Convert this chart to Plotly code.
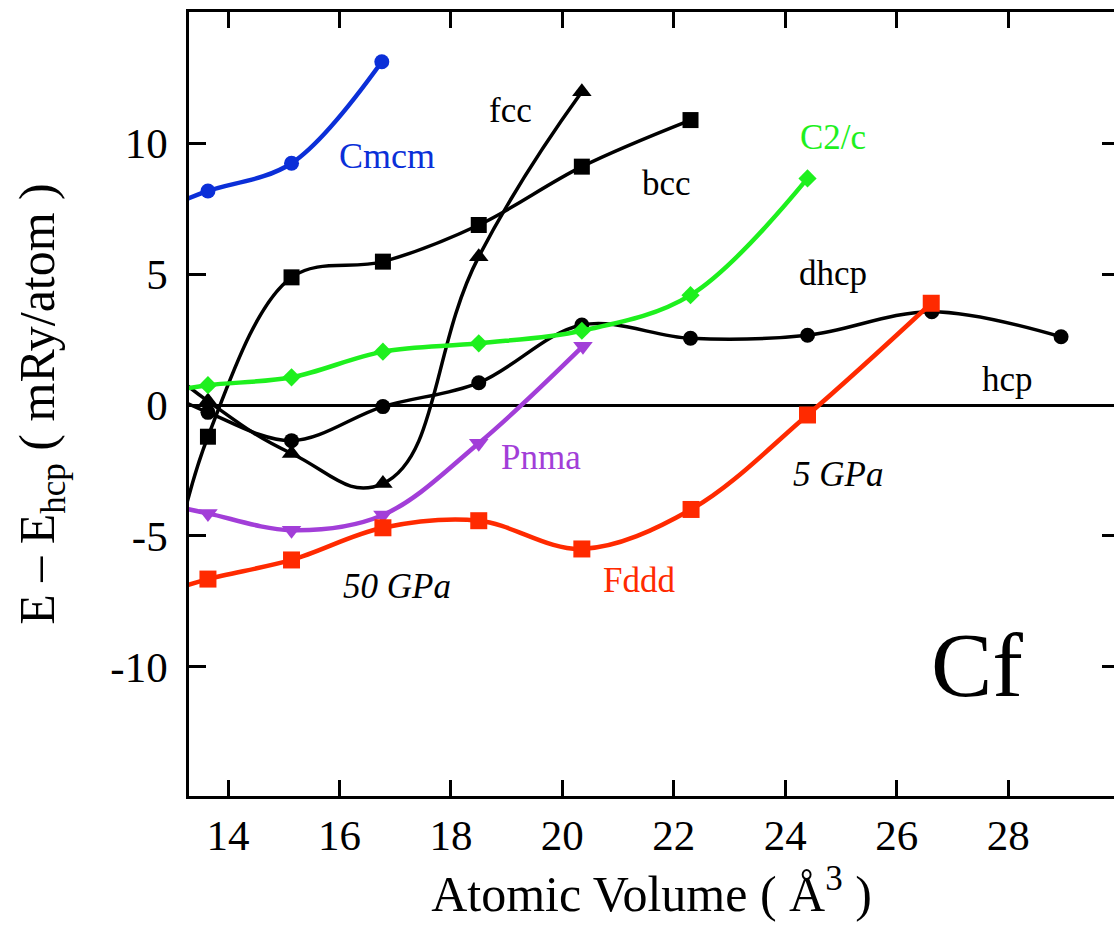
import plotly.graph_objects as go

# ---- data (atomic volume in A^3, energy relative to hcp in mRy/atom) ----
# first point of each curve lies just left of the visible axis range
cmcm_x = [12.9, 13.64, 15.14, 16.76]
cmcm_y = [7.57, 8.18, 9.24, 13.12]

bcc_x = [12.9, 13.64, 15.14, 16.78, 18.5, 20.35, 22.3]
bcc_y = [-7.0, -1.21, 4.88, 5.48, 6.88, 9.11, 10.89]

fcc_x = [12.9, 13.64, 15.14, 16.78, 18.5, 20.35]
fcc_y = [1.4, 0.15, -1.85, -3.0, 5.67, 11.97]

dhcp_x = [12.9, 13.64, 15.14, 16.78, 18.5, 20.35, 22.3, 24.4, 26.63, 28.95]
dhcp_y = [0.45, -0.28, -1.36, -0.06, 0.85, 3.06, 2.55, 2.67, 3.57, 2.61]

c2c_x = [12.9, 13.64, 15.14, 16.78, 18.5, 20.35, 22.3, 24.4]
c2c_y = [0.5, 0.76, 1.06, 2.04, 2.36, 2.84, 4.2, 8.66]

pnma_x = [12.9, 13.64, 15.14, 16.78, 18.5, 20.37]
pnma_y = [-3.8, -4.14, -4.78, -4.2, -1.46, 2.25]

fddd_x = [12.9, 13.64, 15.14, 16.78, 18.5, 20.35, 22.31, 24.4, 26.62]
fddd_y = [-7.15, -6.65, -5.92, -4.69, -4.42, -5.5, -3.99, -0.38, 3.89]

x_ticks = [14, 16, 18, 20, 22, 24, 26, 28]
x_ticktext = ["14", "16", "18", "20", "22", "24", "26", "28"]
y_ticks = [-10, -5, 0, 5, 10]
y_ticktext = ["-10", "-5", "0", "5", "10"]

BLACK = "#000000"
BLUE = "#0b2fd8"
GREEN = "#1ef01e"
PURPLE = "#a23ed8"
RED = "#ff2a00"
FONT = "Liberation Serif"

fig = go.Figure()

def add(x, y, color, symbol, size, width, yaxis="y", smoothing=1.0):
    fig.add_trace(go.Scatter(
        x=x, y=y, mode="lines+markers", yaxis=yaxis,
        line=dict(color=color, width=width, shape="spline", smoothing=smoothing),
        marker=dict(symbol=symbol, size=size, color=color),
        showlegend=False, hoverinfo="skip"))

add(fcc_x, fcc_y, BLACK, "triangle-up", 17, 3.5, smoothing=1.3)
add(bcc_x, bcc_y, BLACK, "square", 16, 3.5)
add(dhcp_x, dhcp_y, BLACK, "circle", 15, 3.5)
add(cmcm_x, cmcm_y, BLUE, "circle", 15, 4.5)
add(c2c_x, c2c_y, GREEN, "diamond", 14, 4.5)
add(pnma_x, pnma_y, PURPLE, "triangle-down", 17, 4.5)
# drawn on the right-hand (mirrored) y axis, which shares the left axis scale
add(fddd_x, fddd_y, RED, "square", 17, 4.5, yaxis="y2")

labels = [
    ("Cmcm", 16.86, 9.51, BLUE, 36),
    ("fcc", 19.07, 11.27, BLACK, 35),
    ("bcc", 21.87, 8.48, BLACK, 35),
    ("C2/c", 24.85, 10.24, GREEN, 35),
    ("dhcp", 24.86, 5.04, BLACK, 35),
    ("hcp", 27.99, 0.96, BLACK, 35),
    ("Pnma", 19.61, -1.99, PURPLE, 35),
    ("Fddd", 21.38, -6.69, RED, 35),
    ("<i>5 GPa</i>", 24.94, -2.64, BLACK, 35),
    ("<i>50 GPa</i>", 17.04, -6.95, BLACK, 35),
    ("Cf", 27.45, -9.93, BLACK, 92),
]
for txt, lx, ly, col, sz in labels:
    fig.add_annotation(x=lx, y=ly, xref="x", yref="y", text=txt, showarrow=False,
                       font=dict(family=FONT, size=sz, color=col),
                       xanchor="center", yanchor="middle")

Y_RANGE = [-14.94, 15.02]

fig.update_layout(
    width=1114, height=930,
    margin=dict(l=189, r=0, t=12, b=134),
    paper_bgcolor="white", plot_bgcolor="white",
    font=dict(family=FONT, color="black"),
    xaxis=dict(
        range=[13.30, 29.90], tickvals=x_ticks, ticktext=x_ticktext,
        ticks="inside", ticklen=16, tickwidth=2.5, tickcolor="black",
        showline=True, linewidth=2.5, linecolor="black", mirror="ticks",
        showgrid=False, zeroline=False,
        tickfont=dict(family=FONT, size=43, color="black"),
        title=dict(text="Atomic Volume ( Å<sup>3</sup> )",
                   font=dict(family=FONT, size=50, color="black"), standoff=16),
    ),
    yaxis=dict(
        range=Y_RANGE, tickvals=y_ticks, ticktext=y_ticktext,
        ticks="inside", ticklen=17, tickwidth=2.5, tickcolor="black",
        showline=True, linewidth=2.5, linecolor="black", mirror=False,
        showgrid=False, zeroline=True, zerolinecolor="black", zerolinewidth=3,
        tickfont=dict(family=FONT, size=43, color="black"),
        ticklabelstandoff=10,
        title=dict(text="E – E<sub>hcp</sub> ( mRy/atom )",
                   font=dict(family=FONT, size=50, color="black"), standoff=40),
    ),
    yaxis2=dict(
        overlaying="y", side="right", matches="y", range=Y_RANGE,
        tickvals=y_ticks, ticks="inside", ticklen=12, tickwidth=2.5, tickcolor="black",
        showticklabels=False, showline=False, showgrid=False, zeroline=False,
    ),
)

fig.write_html("out.html")
